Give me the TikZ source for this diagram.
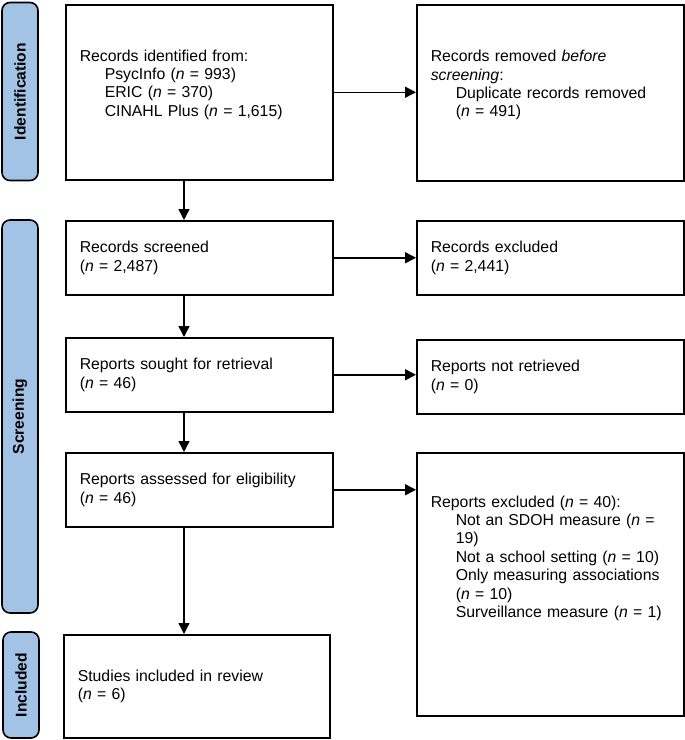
\documentclass[tikz,border=0pt]{standalone}
\usepackage{fontspec}
\setmainfont{Liberation Sans}
\usetikzlibrary{arrows.meta}
\definecolor{phaseblue}{RGB}{162,195,230}
\begin{document}
\begin{tikzpicture}[x=1pt, y=-1pt, >={Triangle[length=11pt,width=11pt]},
    box/.style={draw, line width=1.5pt, anchor=north west, align=left, inner xsep=14pt,
        font=\fontsize{15.8pt}{18.4pt}\selectfont, text width=239pt, minimum height=74pt},
    phase/.style={draw, line width=1.6pt, fill=phaseblue, rounded corners=8pt, rotate=90,
        minimum height=36pt, font=\fontsize{15.6pt}{18pt}\selectfont\bfseries}]
\useasboundingbox (0,0) rectangle (685,740);

% phases
\node[phase, minimum width=178pt] (pid) at (20,91.5) {Identification};
\node[phase, minimum width=393pt] (pscr) at (20,416.5) {Screening};
\node[phase, minimum width=106pt] (pinc) at (21,685) {Included};

% left column
\node[box, minimum height=175pt] (ident) at (65,4) {Records identified from:\\
    \hspace*{25pt}PsycInfo (\textit{n} = 993)\\
    \hspace*{25pt}ERIC (\textit{n} = 370)\\
    \hspace*{25pt}CINAHL Plus (\textit{n} = 1,615)\\ \mbox{}};
\node[box] (screened) at (65,220) {Records screened\\(\textit{n} = 2,487)};
\node[box] (sought) at (65,337) {Reports sought for retrieval\\(\textit{n} = 46)};
\node[box] (assessed) at (65,452) {Reports assessed for eligibility\\(\textit{n} = 46)};
\node[box, minimum height=103pt, text width=238pt] (included) at (63,634) {Studies included in review\\(\textit{n} = 6)};

% right column
\node[box, minimum height=176pt] (removed) at (416,4) {Records removed \textit{before}\\
    \textit{screening}:\\
    \hspace*{25pt}Duplicate records removed\\
    \hspace*{25pt}(\textit{n} = 491)\\ \mbox{}};
\node[box] (excluded) at (416,220) {Records excluded\\(\textit{n} = 2,441)};
\node[box] (notret) at (416,339) {Reports not retrieved\\(\textit{n} = 0)};
\node[box, minimum height=263pt] (rexcl) at (416,452) {Reports excluded (\textit{n} = 40):\\
    \hspace*{25pt}Not an SDOH measure (\textit{n} =\\
    \hspace*{25pt}19)\\
    \hspace*{25pt}Not a school setting (\textit{n} = 10)\\
    \hspace*{25pt}Only measuring associations\\
    \hspace*{25pt}(\textit{n} = 10)\\
    \hspace*{25pt}Surveillance measure (\textit{n} = 1)\\ \mbox{}\\ \mbox{}\\ \mbox{}};

\coordinate (spine) at (184,0);
\foreach \a/\b in {ident/screened, screened/sought, sought/assessed, assessed/included}
    \draw[->, line width=1.5pt] (\a.south -| spine) -- (\b.north -| spine);
\foreach \a/\b in {ident/removed, screened/excluded, sought/notret, assessed/rexcl}
    \draw[->, line width=1.5pt] (\a.east) -- (\a.east -| \b.west);
\end{tikzpicture}
\end{document}
